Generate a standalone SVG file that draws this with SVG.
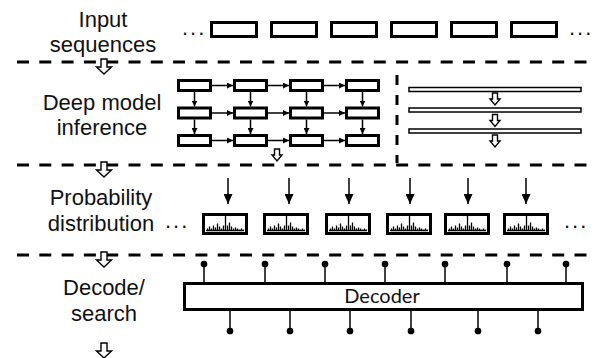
<svg xmlns="http://www.w3.org/2000/svg" xmlns:xlink="http://www.w3.org/1999/xlink" width="595" height="358" viewBox="0 0 595 358">
  <style>
    .lbl { font-family: "Liberation Sans", Arial, sans-serif; font-size: 22px; fill: #111; text-anchor: middle; }
    .dots { font-family: "Liberation Sans", Arial, sans-serif; font-size: 22px; fill: #111; letter-spacing: 2px; }
    .sep { stroke: #000; stroke-width: 3; stroke-dasharray: 12 10.3; fill: none; }
    .vsep { stroke: #000; stroke-width: 3; stroke-dasharray: 10 10; fill: none; }
    .box { fill: #fff; stroke: #000; stroke-width: 3; }
    .bar { fill: #fff; stroke: #000; stroke-width: 1.5; }
    .hollow { fill: #fff; stroke: #000; stroke-width: 1.4; stroke-linejoin: miter; }
    .link { stroke: #000; stroke-width: 1.5; fill: none; }
    .pin { stroke: #000; stroke-width: 1.5; }
    .dec { font-family: Lato, "Open Sans", sans-serif; font-size: 20px; fill: #111; text-anchor: middle; }
  </style>
  <defs>
    <marker id="tip" viewBox="0 0 10 10" refX="10" refY="5" markerWidth="6" markerHeight="6" markerUnits="userSpaceOnUse" orient="auto">
      <path d="M0,0 L10,5 L0,10 Z" fill="#000"/>
    </marker>
    <marker id="tipBig" viewBox="0 0 10 10" refX="10" refY="5" markerWidth="10" markerHeight="9" markerUnits="userSpaceOnUse" orient="auto" preserveAspectRatio="none">
      <path d="M0,0 L10,5 L0,10 Z" fill="#000"/>
    </marker>
    <!-- hollow block arrows -->
    <path id="flow" class="hollow" d="M-3,0 V8 H-7.5 L0,15 L7.5,8 H3 V0 Z"/>
    <path id="flowSmall" class="hollow" d="M-2.5,0 V6 H-5 L0,12 L5,6 H2.5 V0 Z"/>
    <!-- histogram box (46 x 22) -->
    <g id="hist">
      <rect class="box" x="1.5" y="1.5" width="43" height="19"/>
      <path d="M4,17.5 H42 M5.5,17.5 v-2 M7.5,17.5 v-4 M9.5,17.5 v-2 M11.5,17.5 v-5 M13.5,17.5 v-3 M15.5,17.5 v-7 M17.5,17.5 v-4 M19.5,17.5 v-2 M21.5,17.5 v-5 M23.5,17.5 v-15 M25.5,17.5 v-5 M27.5,17.5 v-8 M29.5,17.5 v-4 M31.5,17.5 v-2 M33.5,17.5 v-3 M35.5,17.5 v-2 M37.5,17.5 v-1 M39.5,17.5 v-2 M41.5,17.5 v-1" stroke="#000" stroke-width="1.3" fill="none"/>
    </g>
  </defs>

  <rect width="595" height="358" fill="#fff"/>

  <!-- stage separators -->
  <g id="separators">
    <line class="sep" x1="17" y1="62" x2="587" y2="62"/>
    <line class="sep" x1="17" y1="165" x2="587" y2="165"/>
    <line class="sep" x1="17" y1="255" x2="587" y2="255"/>
    <line class="vsep" x1="397" y1="75" x2="397" y2="163"/>
  </g>

  <!-- stage labels -->
  <g id="labels">
    <text class="lbl" x="103" y="27">Input</text>
    <text class="lbl" x="103" y="52">sequences</text>
    <text class="lbl" x="102" y="110">Deep model</text>
    <text class="lbl" x="102" y="135">inference</text>
    <text class="lbl" x="101" y="205">Probability</text>
    <text class="lbl" x="101" y="231">distribution</text>
    <text class="lbl" x="104" y="295">Decode/</text>
    <text class="lbl" x="104" y="321">search</text>
  </g>

  <!-- flow between stages -->
  <g id="stage-flow">
    <use xlink:href="#flow" x="104" y="59"/>
    <use xlink:href="#flow" x="104" y="162"/>
    <use xlink:href="#flow" x="104" y="252"/>
    <use xlink:href="#flow" x="104" y="343"/>
  </g>

  <!-- input sequences -->
  <g id="input-seq">
    <text class="dots" x="182" y="35">...</text>
    <rect class="box" x="211.5" y="22.5" width="45" height="14"/>
    <rect class="box" x="271.5" y="22.5" width="45" height="14"/>
    <rect class="box" x="331.5" y="22.5" width="45" height="14"/>
    <rect class="box" x="391.5" y="22.5" width="45" height="14"/>
    <rect class="box" x="451.5" y="22.5" width="45" height="14"/>
    <rect class="box" x="511.5" y="22.5" width="45" height="14"/>
    <text class="dots" x="569" y="35">...</text>
  </g>

  <!-- recurrent grid model -->
  <g id="grid-model">
    <rect class="box" x="178.5" y="80.5" width="32" height="10"/>
    <rect class="box" x="234.5" y="80.5" width="32" height="10"/>
    <rect class="box" x="290.5" y="80.5" width="32" height="10"/>
    <rect class="box" x="346.5" y="80.5" width="32" height="10"/>
    <rect class="box" x="178.5" y="108" width="32" height="10"/>
    <rect class="box" x="234.5" y="108" width="32" height="10"/>
    <rect class="box" x="290.5" y="108" width="32" height="10"/>
    <rect class="box" x="346.5" y="108" width="32" height="10"/>
    <rect class="box" x="178.5" y="135.5" width="32" height="10"/>
    <rect class="box" x="234.5" y="135.5" width="32" height="10"/>
    <rect class="box" x="290.5" y="135.5" width="32" height="10"/>
    <rect class="box" x="346.5" y="135.5" width="32" height="10"/>
    <use xlink:href="#flowSmall" x="277" y="149"/>
  </g>

  <!-- stacked layer model -->
  <g id="layer-model">
    <rect class="bar" x="409" y="87.5" width="172" height="4"/>
    <rect class="bar" x="409" y="108" width="172" height="4"/>
    <rect class="bar" x="409" y="129" width="172" height="4"/>
    <use xlink:href="#flowSmall" x="495" y="93"/>
    <use xlink:href="#flowSmall" x="495" y="114.5"/>
    <use xlink:href="#flowSmall" x="495" y="135"/>
  </g>

  <!-- probability distributions -->
  <g id="distributions">
    <text class="dots" x="165" y="228">...</text>
    <use xlink:href="#hist" x="202" y="213"/>
    <use xlink:href="#hist" x="263" y="213"/>
    <use xlink:href="#hist" x="325" y="213"/>
    <use xlink:href="#hist" x="386" y="213"/>
    <use xlink:href="#hist" x="444" y="213"/>
    <use xlink:href="#hist" x="503" y="213"/>
    <text class="dots" x="564" y="228">...</text>
  </g>

  <!-- decoder -->
  <g id="decoder">
    <rect class="box" x="184.5" y="283.5" width="398" height="26"/>
    <text class="dec" x="382" y="303">Decoder</text>
  </g>

  <!-- connectors -->
  <g id="connectors">
    <!-- grid: horizontal -->
    <line class="link" x1="212" y1="85.5" x2="233" y2="85.5" marker-end="url(#tip)"/>
    <line class="link" x1="268" y1="85.5" x2="289" y2="85.5" marker-end="url(#tip)"/>
    <line class="link" x1="324" y1="85.5" x2="345" y2="85.5" marker-end="url(#tip)"/>
    <line class="link" x1="212" y1="113" x2="233" y2="113" marker-end="url(#tip)"/>
    <line class="link" x1="268" y1="113" x2="289" y2="113" marker-end="url(#tip)"/>
    <line class="link" x1="324" y1="113" x2="345" y2="113" marker-end="url(#tip)"/>
    <line class="link" x1="212" y1="140.5" x2="233" y2="140.5" marker-end="url(#tip)"/>
    <line class="link" x1="268" y1="140.5" x2="289" y2="140.5" marker-end="url(#tip)"/>
    <line class="link" x1="324" y1="140.5" x2="345" y2="140.5" marker-end="url(#tip)"/>
    <!-- grid: vertical -->
    <line class="link" x1="194.5" y1="92" x2="194.5" y2="106.5" marker-end="url(#tip)"/>
    <line class="link" x1="250.5" y1="92" x2="250.5" y2="106.5" marker-end="url(#tip)"/>
    <line class="link" x1="306.5" y1="92" x2="306.5" y2="106.5" marker-end="url(#tip)"/>
    <line class="link" x1="362.5" y1="92" x2="362.5" y2="106.5" marker-end="url(#tip)"/>
    <line class="link" x1="194.5" y1="119.5" x2="194.5" y2="134" marker-end="url(#tip)"/>
    <line class="link" x1="250.5" y1="119.5" x2="250.5" y2="134" marker-end="url(#tip)"/>
    <line class="link" x1="306.5" y1="119.5" x2="306.5" y2="134" marker-end="url(#tip)"/>
    <line class="link" x1="362.5" y1="119.5" x2="362.5" y2="134" marker-end="url(#tip)"/>
    <!-- into distributions -->
    <line class="link" x1="228" y1="178" x2="228" y2="204" marker-end="url(#tipBig)"/>
    <line class="link" x1="289" y1="178" x2="289" y2="204" marker-end="url(#tipBig)"/>
    <line class="link" x1="349" y1="178" x2="349" y2="204" marker-end="url(#tipBig)"/>
    <line class="link" x1="410" y1="178" x2="410" y2="204" marker-end="url(#tipBig)"/>
    <line class="link" x1="468" y1="178" x2="468" y2="204" marker-end="url(#tipBig)"/>
    <line class="link" x1="526" y1="178" x2="526" y2="204" marker-end="url(#tipBig)"/>
    <!-- decoder pins: top -->
    <g class="pin">
      <line x1="204" y1="264" x2="204" y2="283"/><circle cx="204" cy="264" r="2.6"/>
      <line x1="265" y1="264" x2="265" y2="283"/><circle cx="265" cy="264" r="2.6"/>
      <line x1="325" y1="264" x2="325" y2="283"/><circle cx="325" cy="264" r="2.6"/>
      <line x1="385" y1="264" x2="385" y2="283"/><circle cx="385" cy="264" r="2.6"/>
      <line x1="445" y1="264" x2="445" y2="283"/><circle cx="445" cy="264" r="2.6"/>
      <line x1="507" y1="264" x2="507" y2="283"/><circle cx="507" cy="264" r="2.6"/>
      <line x1="566" y1="264" x2="566" y2="283"/><circle cx="566" cy="264" r="2.6"/>
    </g>
    <!-- decoder pins: bottom -->
    <g class="pin">
      <line x1="230" y1="310" x2="230" y2="331"/><circle cx="230" cy="331" r="2.6"/>
      <line x1="290" y1="310" x2="290" y2="331"/><circle cx="290" cy="331" r="2.6"/>
      <line x1="350" y1="310" x2="350" y2="331"/><circle cx="350" cy="331" r="2.6"/>
      <line x1="411" y1="310" x2="411" y2="331"/><circle cx="411" cy="331" r="2.6"/>
      <line x1="478" y1="310" x2="478" y2="331"/><circle cx="478" cy="331" r="2.6"/>
      <line x1="538" y1="310" x2="538" y2="331"/><circle cx="538" cy="331" r="2.6"/>
    </g>
  </g>
</svg>
